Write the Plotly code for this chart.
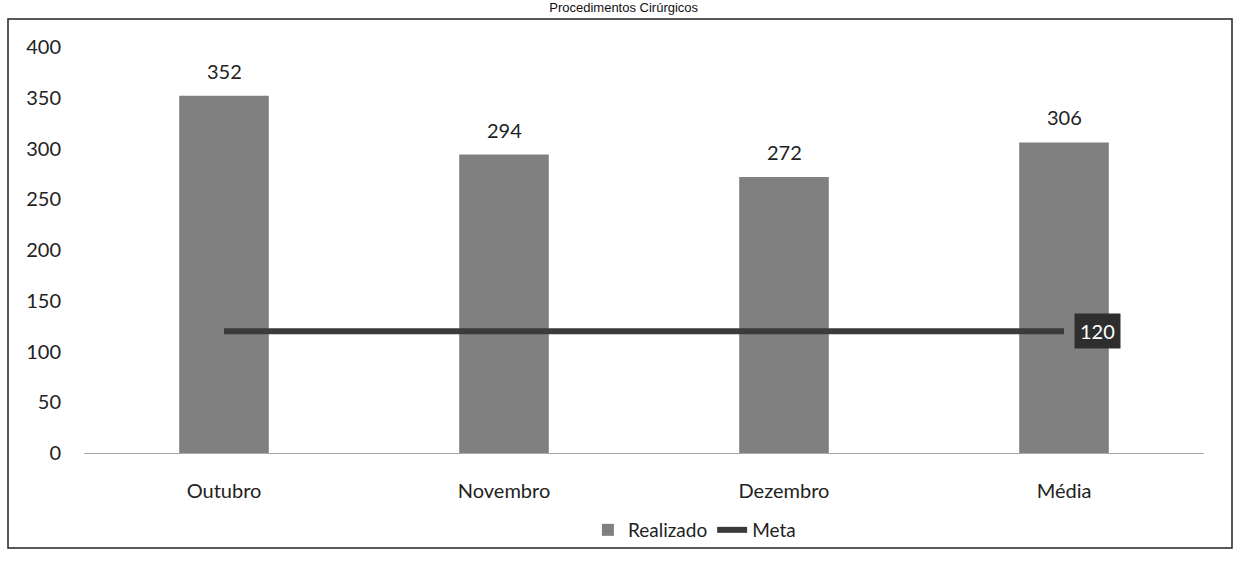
import plotly.graph_objects as go

categorias = ["Outubro", "Novembro", "Dezembro", "Média"]
realizado = [352, 294, 272, 306]
meta = [120, 120, 120, 120]
titulo = "Procedimentos Cirúrgicos"
y_ticks = [0, 50, 100, 150, 200, 250, 300, 350, 400]

FONT = "Lato, Open Sans, sans-serif"
W, H = 1235, 565
ml, mr, mt, mb = 84, 31, 47, 112
pw, ph = W - ml - mr, H - mt - mb

def px_x(p):
    return (p - ml) / pw

def px_y(p):
    return (H - mb - p) / ph

fig = go.Figure()
fig.add_trace(go.Bar(
    x=categorias, y=realizado, name="Realizado",
    marker=dict(color="#808080", line=dict(width=0)),
))
fig.add_trace(go.Scatter(
    x=categorias, y=meta, name="Meta", mode="lines",
    line=dict(color="#3b3b3b", width=6),
))

annotations = []
for c, v in zip(categorias, realizado):
    annotations.append(dict(x=c, y=v, text=str(v), showarrow=False,
                            yshift=25, font=dict(family=FONT, size=20, color="#222")))
annotations.append(dict(x=categorias[-1], y=meta[-1], text=str(meta[-1]), showarrow=False,
                        xanchor="left", xshift=10, bgcolor="#2e2e2e",
                        font=dict(family=FONT, size=20, color="white"),
                        borderpad=5))

fig.update_layout(
    width=W, height=H,
    margin=dict(l=ml, r=mr, t=mt, b=mb, autoexpand=False),
    paper_bgcolor="white", plot_bgcolor="white",
    bargap=0.68,
    title=dict(text=titulo, x=0.505, xanchor="center", yref="container", y=0.994,
               yanchor="top", font=dict(family="Liberation Sans, Arial", size=13, color="#111")),
    xaxis=dict(showline=True, linecolor="#aaaaaa", linewidth=1, ticks="", automargin=False,
               tickfont=dict(family=FONT, size=20, color="#222"), ticklabelstandoff=20),
    yaxis=dict(range=[0, 400], tickvals=y_ticks, showgrid=False, zeroline=False, automargin=False,
               showline=False, tickfont=dict(family=FONT, size=20, color="#222"),
               ticklabelstandoff=22),
    legend=dict(orientation="h", x=0.545, xanchor="center", y=px_y(530), yanchor="middle",
                bgcolor="rgba(0,0,0,0)",
                font=dict(family=FONT, size=19, color="#222")),
    annotations=annotations,
    shapes=[dict(type="rect", xref="paper", yref="paper",
                 x0=px_x(8), x1=px_x(1232), y0=px_y(548), y1=px_y(19),
                 line=dict(color="#222", width=1.5), layer="below")],
)

fig.write_html("out.html", config={"displayModeBar": False},
               post_script="document.body.style.margin='0';document.body.style.overflow='hidden';")
